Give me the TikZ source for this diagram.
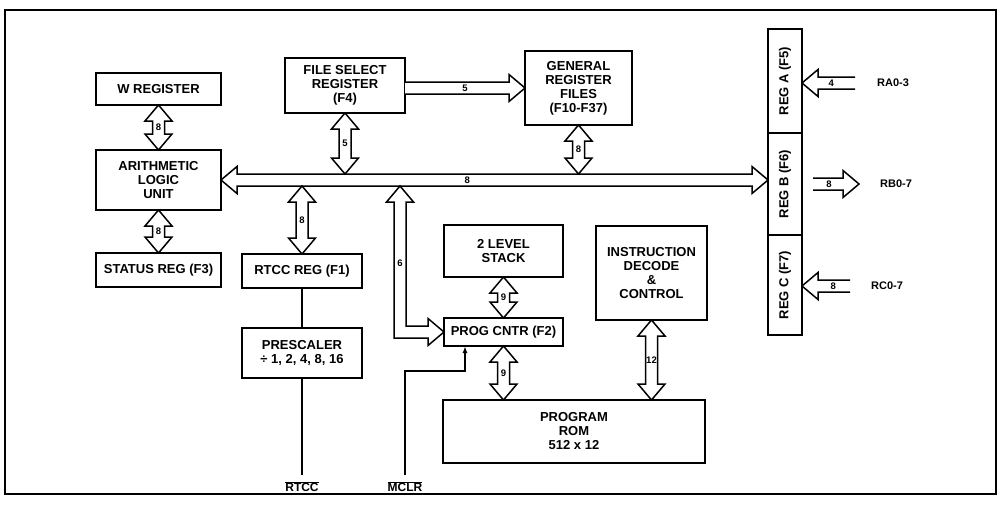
\documentclass[tikz,border=0pt]{standalone}
\usepackage{fontspec}
\setmainfont{Liberation Sans}
\usetikzlibrary{positioning, arrows.meta, calc}

\newcommand{\busw}{6pt}    % half width of a fat shaft
\newcommand{\bushw}{13.5pt} % half width of a fat head
\newcommand{\bushl}{16pt}   % length of a fat head
\newcommand{\boxfont}{\fontsize{13}{14}\selectfont\bfseries}

\begin{document}
\begin{tikzpicture}[x=1pt, y=-1pt,
    box/.style={draw, line width=1.8pt, fill=white, align=center, font=\boxfont,
                inner sep=1pt, outer sep=0pt},
    num/.style={font=\fontsize{9.5}{9.5}\selectfont\bfseries, inner sep=0pt},
    port/.style={font=\fontsize{11}{11}\selectfont\bfseries, inner sep=0pt},
    pin/.style={font=\fontsize{12}{12}\selectfont\bfseries, inner sep=0pt},
    wire/.style={line width=1.4pt},
    fat/.style={draw, line width=1.5pt, fill=white, line join=miter},
    fatboth/.style={fat, to path={
        let \p1=($(\tikztostart)!\bushl!(\tikztotarget)$),
            \p2=($(\tikztotarget)!\bushl!(\tikztostart)$) in
        (\tikztostart) -- ($(\p1)!\bushw!90:(\tikztotarget)$) -- ($(\p1)!\busw!90:(\tikztotarget)$)
        -- ($(\p2)!\busw!-90:(\tikztostart)$) -- ($(\p2)!\bushw!-90:(\tikztostart)$)
        -- (\tikztotarget)
        -- ($(\p2)!\bushw!90:(\tikztostart)$) -- ($(\p2)!\busw!90:(\tikztostart)$)
        -- ($(\p1)!\busw!-90:(\tikztotarget)$) -- ($(\p1)!\bushw!-90:(\tikztotarget)$) -- cycle}},
    fatone/.style={fat, to path={
        let \p2=($(\tikztotarget)!\bushl!(\tikztostart)$) in
        ($(\tikztostart)!\busw!90:(\tikztotarget)$)
        -- ($(\p2)!\busw!-90:(\tikztostart)$) -- ($(\p2)!\bushw!-90:(\tikztostart)$)
        -- (\tikztotarget)
        -- ($(\p2)!\bushw!90:(\tikztostart)$) -- ($(\p2)!\busw!90:(\tikztostart)$)
        -- ($(\tikztostart)!\busw!-90:(\tikztotarget)$)}}
]
\useasboundingbox (0,0) rectangle (1002,506);
\draw[line width=1.6pt] (5,10) rectangle (996,494);

% registers and blocks
\node[box, minimum width=125pt, minimum height=32pt] (wreg) at (158.5,89) {W REGISTER};
\node[box, minimum width=125pt, minimum height=60pt, below=45pt of wreg] (alu) {ARITHMETIC\\LOGIC\\UNIT};
\node[box, minimum width=125pt, minimum height=34pt, below=43pt of alu] (status) {STATUS REG (F3)};
\node[box, minimum width=120pt, minimum height=55pt] (fsr) at (345,85.5) {FILE SELECT\\REGISTER\\(F4)};
\node[box, minimum width=107pt, minimum height=74pt] (grf) at (578.5,88) {GENERAL\\REGISTER\\FILES\\(F10-F37)};
\node[box, minimum width=120pt, minimum height=34pt] (rtcc) at (302,271) {RTCC REG (F1)};
\node[box, minimum width=120pt, minimum height=50pt, below=40pt of rtcc] (presc) {PRESCALER\\÷ 1, 2, 4, 8, 16};
\node[box, minimum width=119pt, minimum height=52pt] (stack) at (503.5,251) {2 LEVEL\\STACK};
\node[box, minimum width=119pt, minimum height=28pt, below=41pt of stack] (pc) {PROG CNTR (F2)};
\node[box, minimum width=262pt, minimum height=63pt] (rom) at (574,431.5) {PROGRAM\\ROM\\512 x 12};
\node[box, minimum width=111pt, minimum height=94pt] (idc) at (651.5,273) {INSTRUCTION\\DECODE\\\&\\CONTROL};
\node[box, minimum width=34pt, minimum height=104pt,
      label={[rotate=90, font=\boxfont]center:REG A (F5)}] (rega) at (785,81) {};
\node[box, minimum width=34pt, minimum height=102pt, below=0pt of rega,
      label={[rotate=90, font=\boxfont]center:REG B (F6)}] (regb) {};
\node[box, minimum width=34pt, minimum height=100pt, below=0pt of regb,
      label={[rotate=90, font=\boxfont]center:REG C (F7)}] (regc) {};

% data bus
\coordinate (bustop) at ($(alu.east)+(0,-6)$);
\coordinate (busbot) at ($(alu.east)+(0,6)$);
\draw[fatboth] (alu.east) to (alu.east -| regb.west);
\node[num] (busn) at ($(alu.east)!0.45!(alu.east -| regb.west)$) {8};

\draw[fatboth] (wreg.south) to (alu.north);
\node[num] (wn) at ($(wreg.south)!0.5!(alu.north)$) {8};
\draw[fatboth] (alu.south) to (status.north);
\node[num] (sn) at ($(alu.south)!0.5!(status.north)$) {8};
\draw[fatboth] (fsr.south) to (fsr.south |- bustop);
\node[num] (fn) at ($(fsr.south)!0.5!(fsr.south |- bustop)$) {5};
\draw[fatboth] (grf.south) to (grf.south |- bustop);
\node[num] (gn) at ($(grf.south)!0.5!(grf.south |- bustop)$) {8};
\draw[fatboth] (rtcc.north) to (rtcc.north |- busbot);
\node[num] (rn) at ($(rtcc.north)!0.5!(rtcc.north |- busbot)$) {8};
\draw[fatone] (fsr.east |- grf.west) to (grf.west);
\node[num] (fgn) at ($(fsr.east |- grf.west)!0.5!(grf.west)$) {5};
\draw[fatboth] (stack.south) to (pc.north);
\node[num] (stn) at ($(stack.south)!0.5!(pc.north)$) {9};
\draw[fatboth] (pc.south) to (pc.south |- rom.north);
\node[num] (pn) at ($(pc.south)!0.5!(pc.south |- rom.north)$) {9};
\draw[fatboth] (idc.south) to (idc.south |- rom.north);
\node[num] (in) at ($(idc.south)!0.5!(idc.south |- rom.north)$) {12};

% bus tap to program counter
\coordinate (tap) at (400,186);
\draw[fat] (tap) -- ++(13.5,16) -- ++(-7.5,0) |- ($(pc.west)+(-16,-6)$) -- ++(0,-7.5)
    -- (pc.west) -- ++(-16,13.5) -- ++(0,-7.5) -| ($(tap)+(-6,16)$) -- ++(-7.5,0) -- cycle;
\node[num] (tn) at (400,263) {6};

% port pins
\coordinate (ra) at (855,83);
\draw[fatone] (ra) to (ra -| rega.east);
\node[num] (ran) at ($(ra)!0.45!(ra -| rega.east)$) {4};
\node[port, right=22pt of ra] (ralbl) {RA0-3};
\coordinate (rbs) at ($(regb.east)+(11,0)$);
\coordinate (rbe) at ($(regb.east)+(57,0)$);
\draw[fatone] (rbs) to (rbe);
\node[num] (rbn) at ($(rbs)!0.35!(rbe)$) {8};
\node[port, right=21pt of rbe] (rblbl) {RB0-7};
\coordinate (rc) at (850,286);
\draw[fatone] (rc) to (rc -| regc.east);
\node[num] (rcn) at ($(rc)!0.35!(rc -| regc.east)$) {8};
\node[port, right=21pt of rc] (rclbl) {RC0-7};

% RTCC and MCLR inputs
\coordinate (mclrpin) at (405,475);
\coordinate (rtccpin) at (presc.south |- mclrpin);
\coordinate (mclrbend) at ($(pc.south west)+(21,25)$);
\draw[wire] (rtcc.south) -- (presc.north);
\draw[wire] (presc.south) -- (rtccpin);
\node[pin, below=6pt of rtccpin] (rtcclbl) {$\overline{\mbox{RTCC}}$};
\draw[wire, -{Latex[length=7pt, width=5pt]}] (mclrpin) |- (mclrbend) -- (mclrbend |- pc.south);
\node[pin, below=6pt of mclrpin] (mclrlbl) {$\overline{\mbox{MCLR}}$};
\end{tikzpicture}
\end{document}
